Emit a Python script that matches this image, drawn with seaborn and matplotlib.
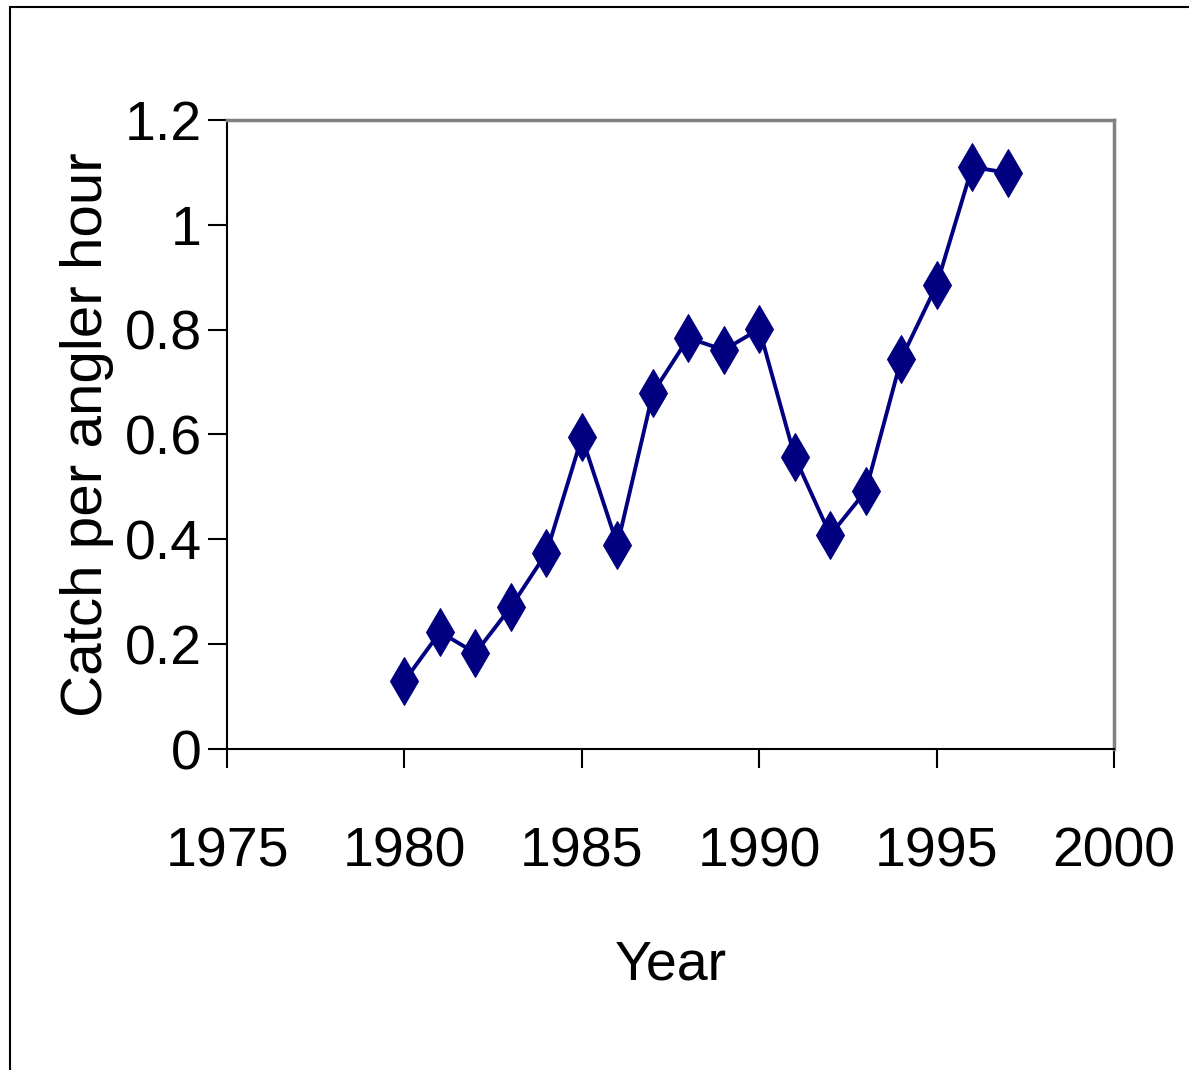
import matplotlib
matplotlib.use("Agg")
import numpy as np
import pandas as pd
import seaborn as sns
from matplotlib import pyplot as plt
from matplotlib.patches import Rectangle

# values
years = [1980, 1981, 1982, 1983, 1984, 1985, 1986, 1987, 1988,
         1989, 1990, 1991, 1992, 1993, 1994, 1995, 1996, 1997]
catch_rate = [0.13, 0.223, 0.183, 0.271, 0.374, 0.595, 0.389, 0.679, 0.784,
              0.761, 0.801, 0.557, 0.408, 0.492, 0.744, 0.885, 1.11, 1.099]
y_ticks = [0, 0.2, 0.4, 0.6, 0.8, 1, 1.2]
y_tick_labels = ["0", "0.2", "0.4", "0.6", "0.8", "1", "1.2"]
x_ticks = [1975, 1980, 1985, 1990, 1995, 2000]

df = pd.DataFrame({"Year": years, "Catch": catch_rate})

sns.set_style("white")
plt.rcParams["font.family"] = ["Liberation Sans Narrow", "Liberation Sans", "DejaVu Sans"]
plt.rcParams["text.color"] = "black"
plt.rcParams["axes.labelcolor"] = "black"
plt.rcParams["xtick.color"] = "black"
plt.rcParams["ytick.color"] = "black"

fig = plt.figure(figsize=(11.89, 10.70), dpi=100)
ax = fig.add_axes([0.191, 0.300, 0.746, 0.588])

sns.lineplot(
    data=df, x="Year", y="Catch", ax=ax,
    color="#000080", linewidth=2.8,
    marker="d", markersize=24, markeredgecolor="#000080",
)

ax.set_xlim(1975, 2000)
ax.set_ylim(0, 1.2)
ax.set_xticks(x_ticks)
ax.set_xticklabels([str(x) for x in x_ticks])
ax.set_yticks(y_ticks)
ax.set_yticklabels(y_tick_labels)
ax.tick_params(axis="both", which="major", labelsize=40, length=14, width=1.5,
               color="black", labelcolor="black", direction="out",
               bottom=True, left=True)
ax.tick_params(axis="x", pad=42)
ax.tick_params(axis="y", pad=4)

ax.set_xlabel("Year", fontsize=40, labelpad=44, color="black")
ax.set_ylabel("Catch per angler hour", fontsize=42, color="black")
ax.yaxis.set_label_coords(-0.127, 0.5)

for side in ["top", "right"]:
    ax.spines[side].set_color("#808080")
    ax.spines[side].set_linewidth(2.5)
for side in ["left", "bottom"]:
    ax.spines[side].set_color("black")
    ax.spines[side].set_linewidth(1.5)

# outer chart border
fig.patches.append(Rectangle((10 / 1189, -0.01), 1.05, 1 - 7 / 1070 + 0.01,
                             transform=fig.transFigure, fill=False,
                             edgecolor="black", linewidth=1.5))

fig.savefig("out.png", dpi=100)
